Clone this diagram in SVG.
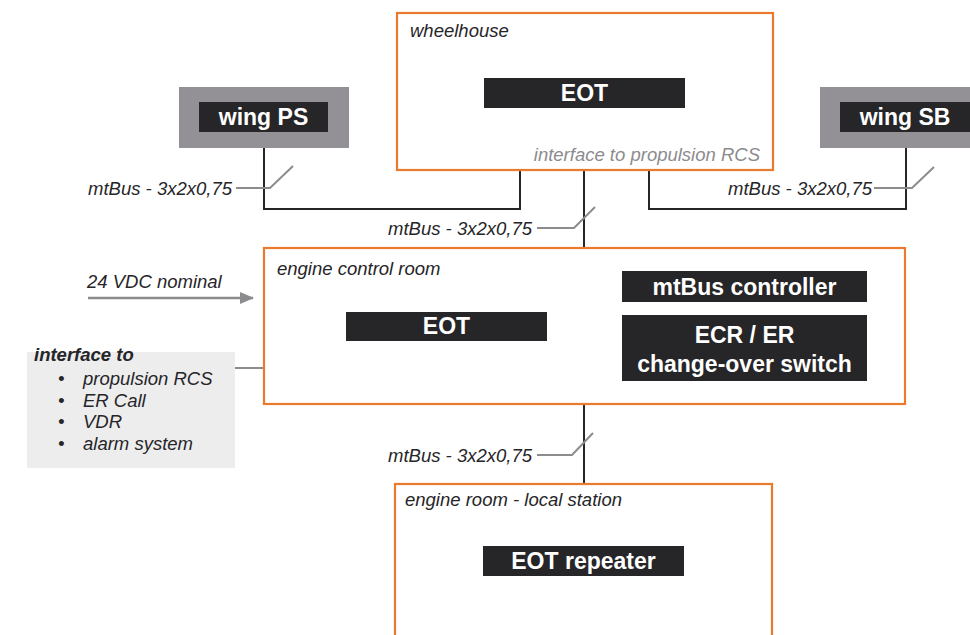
<svg xmlns="http://www.w3.org/2000/svg" width="970" height="635" viewBox="0 0 970 635">
<defs>
<style>
.room{fill:#fff;stroke:#e97a2e;stroke-width:2.2}
.dark{fill:#262528}
.wing{fill:#939195}
.wire{fill:none;stroke:#262528;stroke-width:2}
.tick{fill:none;stroke:#8c8b8e;stroke-width:2}
.lbl{font-family:"Liberation Sans",Arial,sans-serif;font-style:italic;font-size:18.5px;fill:#262528}
.bw{font-family:"Liberation Sans",Arial,sans-serif;font-weight:bold;font-size:23px;fill:#fff;text-anchor:middle}
</style>
<marker id="arr" markerWidth="14" markerHeight="12" refX="13" refY="6" orient="auto" markerUnits="userSpaceOnUse">
<path d="M0,0 L14,6 L0,12 Z" fill="#8c8b8e"/>
</marker>
</defs>

<g id="connectors">
<polyline class="wire" points="264,148 264,209 520,209 520,170"/>
<polyline class="wire" points="649,170 649,209 906,209 906,148"/>
<line class="wire" x1="584" y1="170" x2="584" y2="248"/>
<line class="wire" x1="584" y1="404" x2="584" y2="484"/>
<polyline class="tick" points="236,188 270,188 293,166"/>
<polyline class="tick" points="874,188 912,188 934,167"/>
<polyline class="tick" points="537,228 574,228 595,207"/>
<polyline class="tick" points="537,455 572,455 593,433"/>
<line x1="88" y1="298" x2="253" y2="298" stroke="#8c8b8e" stroke-width="2.5" marker-end="url(#arr)"/>
<line x1="235" y1="368" x2="264" y2="368" stroke="#8c8b8e" stroke-width="2"/>
<text class="lbl" x="232" y="195" text-anchor="end">mtBus - 3x2x0,75</text>
<text class="lbl" x="872" y="195" text-anchor="end">mtBus - 3x2x0,75</text>
<text class="lbl" x="532" y="235" text-anchor="end">mtBus - 3x2x0,75</text>
<text class="lbl" x="532" y="462" text-anchor="end">mtBus - 3x2x0,75</text>
<text class="lbl" x="87" y="288">24 VDC nominal</text>
</g>

<g id="wheelhouse">
<rect class="room" x="397" y="13" width="376" height="157"/>
<text class="lbl" x="410" y="37">wheelhouse</text>
<rect class="dark" x="484" y="78" width="201" height="30"/>
<text class="bw" x="584.5" y="101">EOT</text>
<text class="lbl" x="760" y="161" text-anchor="end" style="fill:#8c8b8e">interface to propulsion RCS</text>
</g>

<g id="wing-ps">
<rect class="wing" x="179" y="87" width="170" height="61"/>
<rect class="dark" x="199" y="102" width="129" height="30"/>
<text class="bw" x="263.5" y="125">wing PS</text>
</g>

<g id="wing-sb">
<rect class="wing" x="820" y="87" width="160" height="61"/>
<rect class="dark" x="840" y="102" width="140" height="30"/>
<text class="bw" x="905" y="125">wing SB</text>
</g>

<g id="engine-control-room">
<rect class="room" x="264" y="248" width="641" height="156"/>
<text class="lbl" x="277" y="275">engine control room</text>
<rect class="dark" x="346" y="312" width="201" height="29"/>
<text class="bw" x="446.5" y="334">EOT</text>
<rect class="dark" x="622" y="271" width="245" height="31"/>
<text class="bw" x="744.5" y="295">mtBus controller</text>
<rect class="dark" x="622" y="315" width="245" height="66"/>
<text class="bw" x="744.5" y="343">ECR / ER</text>
<text class="bw" x="744.5" y="372">change-over switch</text>
</g>

<g id="interface-to">
<rect x="27" y="352" width="208" height="116" fill="#ededee"/>
<text class="lbl" x="34" y="361" font-weight="bold">interface to</text>
<g class="lbl">
<text x="58" y="385">•</text><text x="83" y="385">propulsion RCS</text>
<text x="58" y="407">•</text><text x="83" y="407">ER Call</text>
<text x="58" y="428">•</text><text x="83" y="428">VDR</text>
<text x="58" y="450">•</text><text x="83" y="450">alarm system</text>
</g>
</g>

<g id="engine-room">
<rect class="room" x="395" y="484" width="377" height="160"/>
<text class="lbl" x="405" y="506">engine room - local station</text>
<rect class="dark" x="483" y="546" width="201" height="30"/>
<text class="bw" x="583.5" y="569">EOT repeater</text>
</g>
</svg>
